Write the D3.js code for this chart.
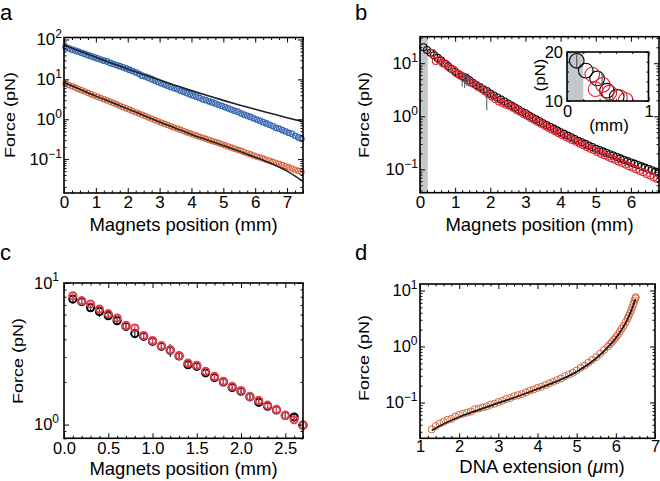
<!DOCTYPE html>
<html><head><meta charset="utf-8">
<script src="https://cdn.jsdelivr.net/npm/d3@7"></script>
<style>
body{margin:0;background:#fff}
svg{display:block}
text{font-family:"Liberation Sans",Arial,Helvetica,sans-serif;fill:#000}
</style>
</head><body>
<svg id="fig" width="660" height="481"></svg>
<script>
// ---------------- DATA ----------------
// Panel a: magnet position (mm) vs force (pN)
const aX = [0.05,0.15,0.25,0.35,0.45,0.55,0.65,0.75,0.85,0.95,
  1.05,1.15,1.25,1.35,1.45,1.55,1.65,1.75,1.85,1.95,
  2.05,2.15,2.25,2.35,2.45,2.55,2.65,2.75,2.85,2.95,
  3.05,3.15,3.25,3.35,3.45,3.55,3.65,3.75,3.85,3.95,
  4.05,4.15,4.25,4.35,4.45,4.55,4.65,4.75,4.85,4.95,
  5.05,5.15,5.25,5.35,5.45,5.55,5.65,5.75,5.85,5.95,
  6.05,6.15,6.25,6.35,6.45,6.55,6.65,6.75,6.85,6.95,
  7.05,7.15,7.25,7.35,7.45];
const aBlue = [64,60,56,52.7,49.4,46.3,43.4,40.7,38.2,35.8,
  33.6,31.5,29.5,28.2,25.9,24.3,22.8,21.4,20.0,18.8,
  17.5,16.2,15.0,13.8,12.4,11.8,10.9,10.1,9.35,8.65,
  8.03,7.47,6.96,6.48,6.03,5.75,5.23,4.87,4.53,4.22,
  3.94,3.69,3.45,3.15,3.02,2.82,2.64,2.47,2.31,2.16,
  2.02,1.88,1.75,1.63,1.55,1.41,1.31,1.22,1.14,1.06,
  0.985,0.913,0.846,0.784,0.727,0.674,0.61,0.579,0.536,0.497,
  0.458,0.43,0.385,0.352,0.323];
const aOrange = [7.83,7.25,6.72,6.23,5.77,5.35,4.96,4.60,4.26,3.95,
  3.66,3.40,3.16,2.94,2.73,2.54,2.36,2.19,2.03,1.89,
  1.75,1.62,1.50,1.39,1.29,1.20,1.11,1.03,0.954,0.884,
  0.822,0.767,0.716,0.668,0.624,0.582,0.543,0.507,0.473,0.442,
  0.414,0.389,0.365,0.343,0.322,0.303,0.285,0.268,0.252,0.236,
  0.222,0.208,0.195,0.183,0.171,0.161,0.151,0.141,0.132,0.124,
  0.1165,0.1095,0.103,0.0967,0.0909,0.0854,0.0802,0.0754,0.0709,0.0666,
  0.0624,0.0582,0.0543,0.0507,0.0473];
const aFitX = [0,0.5,1,1.5,2,2.5,3,3.5,4,4.5,5,5.5,6,6.5,7,7.5];
const aFitBlue = [72.4,50.7,35.9,25.5,18.3,13.2,9.59,7.05,5.22,3.92,2.97,2.28,1.77,1.39,1.09,0.87];
const aFitOrange = [8.32,5.62,3.80,2.63,1.82,1.245,0.851,0.596,0.417,0.302,0.219,0.158,0.112,0.0776,0.0501,0.0275];

// Panel b
const bBlackX = [0.1,0.2,0.3,0.4,0.5,0.6,0.7,0.8,0.9,1.0,
  1.1,1.2,1.3,1.4,1.5,1.6,1.7,1.8,1.9,2.0,
  2.1,2.2,2.3,2.4,2.5,2.6,2.7,2.8,2.9,3.0,
  3.1,3.2,3.3,3.4,3.5,3.6,3.7,3.8,3.9,4.0,
  4.1,4.2,4.3,4.4,4.5,4.6,4.7,4.8,4.9,5.0,
  5.1,5.2,5.3,5.4,5.5,5.6,5.7,5.8,5.9,6.0,
  6.1,6.2,6.3,6.4,6.5,6.6,6.7,6.8];
const bBlack = [19.95,17.8,15.8,14.1,12.6,11.2,9.9,8.8,7.8,6.92,
  6.28,5.70,5.35,4.80,4.27,3.89,3.55,3.24,3.0,2.69,
  2.47,2.26,2.07,1.90,1.74,1.59,1.46,1.34,1.22,1.14,
  1.03,0.951,0.875,0.805,0.741,0.685,0.634,0.586,0.542,0.501,
  0.466,0.433,0.402,0.373,0.347,0.324,0.302,0.282,0.263,0.245,
  0.231,0.218,0.205,0.193,0.182,0.171,0.161,0.152,0.143,0.135,
  0.128,0.121,0.114,0.108,0.102,0.0962,0.0906,0.0851];
const bRedX = [0.35,0.45,0.55,0.65,0.75,0.85,0.95,
  1.05,1.15,1.25,1.35,1.45,1.55,1.65,1.75,1.85,1.95,
  2.05,2.15,2.25,2.35,2.45,2.55,2.65,2.75,2.85,2.95,
  3.05,3.15,3.25,3.35,3.45,3.55,3.65,3.75,3.85,3.95,
  4.05,4.15,4.25,4.35,4.45,4.55,4.65,4.75,4.85,4.95,
  5.05,5.15,5.25,5.35,5.45,5.55,5.65,5.75,5.85,5.95,
  6.05,6.15,6.25,6.35,6.45,6.55,6.65,6.75];
const bRed = [15.5,11.0,11.5,10.0,9.5,8.1,7.5,
  6.4,5.9,5.3,4.8,4.3,4.0,3.6,3.3,2.95,2.6,
  2.35,2.1,1.9,1.78,1.65,1.58,1.45,1.32,1.22,1.1,
  1.02,0.93,0.85,0.78,0.72,0.66,0.61,0.56,0.52,0.48,
  0.44,0.41,0.38,0.355,0.33,0.305,0.285,0.265,0.245,0.228,
  0.212,0.197,0.185,0.172,0.161,0.151,0.141,0.132,0.123,0.115,
  0.107,0.100,0.094,0.088,0.082,0.077,0.071,0.066];
const bErrX = [1.2,1.27,1.33,1.4,1.9];
const bErrLo = [3.6,3.4,3.7,3.9,1.3];
const bErrHi = [6.2,6.5,6.0,5.6,3.5];
const bShade = [0,0.22];

// Inset of panel b
const iBlackX = [0.12,0.23,0.37,0.49,0.61];
const iBlack = [18.2,16.2,14.6,12.1,10.9];
const iRedX = [0.31,0.35,0.44,0.52,0.65,0.72];
const iRed = [15.4,12.4,13.3,11.7,10.8,10.2];
const iErrX = [0.12,0.43];
const iErrLo = [16.7,13.7];
const iErrHi = [19.5,15.7];
const iShade = [0,0.2];

// Panel c
const cX = [0.1,0.2,0.3,0.4,0.5,0.6,0.7,0.8,0.9,1.0,1.1,1.2,1.3,1.4,1.5,1.6,1.7,1.8,1.9,2.0,2.1,2.2,2.3,2.4,2.5,2.6,2.7];
const cBlack = [7.7,7.4,6.7,6.3,5.88,5.42,4.94,4.39,4.2,3.87,3.57,3.35,3.05,2.65,2.58,2.32,2.15,2.0,1.83,1.72,1.57,1.44,1.35,1.27,1.16,1.13,0.99];
const cRed = [8.13,7.5,7.1,6.55,6.07,5.66,5.02,4.81,4.25,3.92,3.61,3.38,3.07,2.72,2.62,2.38,2.19,2.02,1.86,1.74,1.58,1.48,1.37,1.28,1.16,1.08,0.99];
const cBlackErr = [0.45,0.5,0.35,0.55,0.3,0.3,0.2,0.25,0.25,0.25,0.15,0.35,0.12,0.15,0.1,0.15,0.1,0.1,0.1,0.07,0.06,0.1,0.05,0.05,0.05,0.07,0.05];
const cRedErr = [0.3,0.3,0.25,0.25,0.2,0.2,0.15,0.2,0.15,0.15,0.12,0.15,0.1,0.1,0.1,0.1,0.08,0.08,0.07,0.06,0.06,0.06,0.05,0.05,0.04,0.05,0.04];

// Panel d: DNA extension (um) vs force (pN)
const dX = [1.3,1.4,1.5,1.6,1.7,1.8,1.9,2.0,2.1,2.2,
  2.3,2.4,2.5,2.6,2.7,2.8,2.9,3.0,3.1,3.2,
  3.3,3.4,3.5,3.6,3.7,3.8,3.9,4.0,4.1,4.2,
  4.3,4.4,4.5,4.6,4.7,4.8,4.9,5.0,5.1,5.2,
  5.3,5.4,5.5,5.6,5.7,5.8,
  5.85,5.9,5.95,6.0,6.05,6.1,6.15,6.2,6.25,6.3,6.33,6.36,6.39,6.42,6.45,6.48,6.5,6.51];
const dF = [0.033,0.038,0.042,0.045,0.049,0.051,0.056,0.060,0.063,0.066,
  0.069,0.076,0.078,0.081,0.085,0.091,0.095,0.102,0.107,0.115,
  0.120,0.129,0.135,0.141,0.151,0.162,0.170,0.182,0.191,0.204,
  0.219,0.234,0.251,0.269,0.295,0.316,0.339,0.372,0.417,0.457,
  0.513,0.575,0.646,0.741,0.871,1.0,
  1.10,1.20,1.32,1.45,1.62,1.84,2.08,2.34,2.72,3.16,3.53,3.94,4.41,5.01,5.75,6.61,7.24,7.6];
const dFitX = [1.3,1.5,2,2.5,3,3.5,4,4.5,5,5.5,5.8,6.0,6.2,6.3,6.4,6.5];
const dFitF = [0.0316,0.038,0.055,0.074,0.098,0.129,0.174,0.24,0.355,0.617,0.977,1.41,2.29,3.09,4.47,7.08];

// Tick values
const aXMajor = [0,1,2,3,4,5,6,7];
const bXMajor = [0,1,2,3,4,5,6];
const cXMajor = [0,0.5,1.0,1.5,2.0,2.5];
const dXMajor = [1,2,3,4,5,6,7];
const iXMajor = [0,1];
const iYMajor = [10,20];

// ---------------- COLOURS ----------------
const BLUE = "#3568b3", ORANGE = "#d4653e", RED_B = "#e3202f", RED_C = "#e2404f", SHADE = "#c3c8cc";

// ---------------- HELPERS ----------------
const svg = d3.select("#fig");
const FONT_TICK = 17, FONT_SUP = 12, FONT_LAB = 18.5;

function range(a, b, s) { const out = []; for (let v = a; v <= b + 1e-9; v += s) out.push(+v.toFixed(6)); return out; }
function minorLin(dom, step, majors) {
  return range(Math.ceil(dom[0] / step - 1e-9) * step, dom[1], step).filter(v => !majors.some(m => Math.abs(m - v) < 1e-6));
}
function logMajor(dom) { const o = []; for (let e = -4; e <= 4; e++) { const v = Math.pow(10, e); if (v >= dom[0] * 0.999 && v <= dom[1] * 1.001) o.push(v); } return o; }
function logMinor(dom) { const o = []; for (let e = -4; e <= 4; e++) for (let k = 2; k <= 9; k++) { const v = k * Math.pow(10, e); if (v >= dom[0] && v <= dom[1]) o.push(v); } return o; }

function styleAxis(sel, fs) {
  sel.select(".domain").remove();
  sel.selectAll(".tick line").attr("stroke", "#000").attr("stroke-width", 1);
  sel.selectAll(".tick text").attr("font-size", fs).attr("fill", "#000")
    .attr("font-family", '"Liberation Sans",Arial,sans-serif');
}
function superscriptLabels(sel) {
  sel.selectAll(".tick text").each(function (d) {
    const t = d3.select(this);
    t.text(null);
    const e = Math.round(Math.log10(d));
    t.append("tspan").text("10");
    t.append("tspan").attr("dy", "-0.62em").attr("font-size", FONT_SUP).text(String(e).replace("-", "\u2212"));
  });
}

function box(g, x, y, o) {
  const [x0, x1] = x.range();
  const [yB, yT] = y.range();
  const none = () => "";
  const fs = o.fs || FONT_TICK;
  const majL = o.majLen || 5, minL = o.minLen || 2.5;
  g.append("g").attr("transform", `translate(0,${yB})`)
    .call(d3.axisBottom(x).tickValues(o.xMaj).tickSize(-majL).tickPadding(o.xPad).tickFormat(o.xFmt || none))
    .call(s => styleAxis(s, fs));
  g.append("g").attr("transform", `translate(0,${yB})`)
    .call(d3.axisBottom(x).tickValues(o.xMin).tickSize(-minL).tickFormat(none)).call(s => styleAxis(s, fs));
  g.append("g").attr("transform", `translate(0,${yT})`)
    .call(d3.axisTop(x).tickValues(o.xMaj).tickSize(-majL).tickFormat(none)).call(s => styleAxis(s, fs));
  g.append("g").attr("transform", `translate(0,${yT})`)
    .call(d3.axisTop(x).tickValues(o.xMin).tickSize(-minL).tickFormat(none)).call(s => styleAxis(s, fs));
  const la = g.append("g").attr("transform", `translate(${x0},0)`)
    .call(d3.axisLeft(y).tickValues(o.yMaj).tickSize(-majL).tickPadding(o.yPad).tickFormat(o.yFmt || (d => d)))
    .call(s => styleAxis(s, fs));
  if (o.yLog) la.call(superscriptLabels);
  g.append("g").attr("transform", `translate(${x0},0)`)
    .call(d3.axisLeft(y).tickValues(o.yMin).tickSize(-minL).tickFormat(none)).call(s => styleAxis(s, fs));
  g.append("g").attr("transform", `translate(${x1},0)`)
    .call(d3.axisRight(y).tickValues(o.yMaj).tickSize(-majL).tickFormat(none)).call(s => styleAxis(s, fs));
  g.append("g").attr("transform", `translate(${x1},0)`)
    .call(d3.axisRight(y).tickValues(o.yMin).tickSize(-minL).tickFormat(none)).call(s => styleAxis(s, fs));
  g.append("rect").attr("x", x0).attr("y", yT).attr("width", x1 - x0).attr("height", yB - yT)
    .attr("fill", "none").attr("stroke", "#000").attr("stroke-width", 1.6);
}
function clip(id, x, y) {
  const [x0, x1] = x.range(), [yB, yT] = y.range();
  svg.append("defs").append("clipPath").attr("id", id).append("rect")
    .attr("x", x0).attr("y", yT).attr("width", x1 - x0).attr("height", yB - yT);
  return `url(#${id})`;
}
// rotated axis title; glyphs slightly narrowed across the line as in the reference
function yLabel(txt, xb, yc, fs, sq) {
  svg.append("text").attr("transform", `translate(${xb},${yc}) rotate(-90) scale(1,${sq || 0.85})`).attr("text-anchor", "middle")
    .attr("font-size", fs || FONT_LAB).text(txt);
}
function xLabel(txt, xc, yb, fs) {
  return svg.append("text").attr("x", xc).attr("y", yb).attr("text-anchor", "middle").attr("font-size", fs || FONT_LAB).text(txt);
}
function panelLetter(t, x, y) { svg.append("text").attr("x", x).attr("y", y).attr("font-size", 22).text(t); }
function circles(g, xs, ys, x, y, r, color, sw) {
  g.append("g").selectAll("circle").data(xs.map((v, i) => [v, ys[i]])).join("circle")
    .attr("cx", d => x(d[0])).attr("cy", d => y(d[1])).attr("r", r)
    .attr("fill", "none").attr("stroke", color).attr("stroke-width", sw);
}

// ---------------- PANEL A ----------------
{
  const x = d3.scaleLinear([0, 7.5], [64, 303]);
  const yDom = [Math.pow(10, -1.85), Math.pow(10, 2.05)];
  const y = d3.scaleLog(yDom, [193, 37.5]);
  const g = svg.append("g");
  const cp = clip("clipA", x, y);
  circles(g, aX, aBlue, x, y, 2.7, BLUE, 1.3);
  circles(g, aX, aOrange, x, y, 2.7, ORANGE, 1.1);
  const line = d3.line().x((d, i) => x(aFitX[i])).y(d => y(d)).curve(d3.curveMonotoneX);
  g.append("path").attr("d", line(aFitBlue)).attr("fill", "none").attr("stroke", "#222").attr("stroke-width", 1.6).attr("clip-path", cp);
  g.append("path").attr("d", line(aFitOrange)).attr("fill", "none").attr("stroke", "#222").attr("stroke-width", 1.6).attr("clip-path", cp);
  box(g, x, y, { xMaj: aXMajor, xMin: minorLin([0, 7.5], 0.25, aXMajor), xPad: 3.2, xFmt: d3.format("d"),
    yMaj: logMajor(yDom), yMin: logMinor(yDom), yPad: 2, yLog: true });
  yLabel("Force (pN)", 14.5, 115, 18);
  xLabel("Magnets position (mm)", 183.5, 230.5);
  panelLetter("a", 0, 20);
}

// ---------------- PANEL B ----------------
{
  const x = d3.scaleLinear([0, 6.8], [420, 659]);
  const yDom = [Math.pow(10, -1.44), Math.pow(10, 1.5)];
  const y = d3.scaleLog(yDom, [192.7, 36.7]);
  const g = svg.append("g");
  g.append("rect").attr("x", x(bShade[0])).attr("y", 36.7).attr("width", x(bShade[1]) - x(bShade[0])).attr("height", 192.7 - 36.7).attr("fill", SHADE);
  circles(g, bBlackX, bBlack, x, y, 3.5, "#000", 1.1);
  circles(g, bRedX, bRed, x, y, 3.5, RED_B, 1.1);
  g.append("g").selectAll("line").data(bErrX.map((v, i) => [v, bErrLo[i], bErrHi[i]])).join("line")
    .attr("x1", d => x(d[0])).attr("x2", d => x(d[0])).attr("y1", d => y(d[1])).attr("y2", d => y(d[2]))
    .attr("stroke", "#555").attr("stroke-width", 1);
  box(g, x, y, { xMaj: bXMajor, xMin: minorLin([0, 6.8], 0.2, bXMajor), xPad: 3.2, xFmt: d3.format("d"),
    yMaj: logMajor(yDom), yMin: logMinor(yDom), yPad: 2, yLog: true });
  yLabel("Force (pN)", 368.5, 115, 18);
  xLabel("Magnets position (mm)", 539.5, 230.5);
  panelLetter("b", 355, 20);

  // inset
  const xi = d3.scaleLinear([0, 1], [567, 648.5]);
  const yi = d3.scaleLinear([10, 20], [101, 52]);
  const gi = svg.append("g");
  gi.append("rect").attr("x", 567).attr("y", 52).attr("width", 81.5).attr("height", 49).attr("fill", "#fff");
  const cpi = clip("clipI", xi, yi);
  const gc = gi.append("g").attr("clip-path", cpi);
  gc.append("rect").attr("x", xi(iShade[0])).attr("y", 52).attr("width", xi(iShade[1]) - xi(iShade[0])).attr("height", 49).attr("fill", SHADE);
  circles(gc, iBlackX, iBlack, xi, yi, 7.3, "#000", 1.1);
  circles(gc, iRedX, iRed, xi, yi, 7.3, RED_B, 1.1);
  gc.append("g").selectAll("line").data(iErrX.map((v, i) => [v, iErrLo[i], iErrHi[i]])).join("line")
    .attr("x1", d => xi(d[0])).attr("x2", d => xi(d[0])).attr("y1", d => yi(d[1])).attr("y2", d => yi(d[2]))
    .attr("stroke", "#444").attr("stroke-width", 1);
  box(gi, xi, yi, { xMaj: iXMajor, xMin: [0.2, 0.4, 0.6, 0.8], xPad: 4, xFmt: d3.format("d"),
    yMaj: iYMajor, yMin: [12, 14, 16, 18], yPad: 4, yFmt: d3.format("d"), majLen: 3.5, minLen: 2, fs: 16.5 });
  yLabel("(pN)", 545, 75, 17);
  xLabel("(mm)", 609, 130.5, 17);
}

// ---------------- PANEL C ----------------
{
  const x = d3.scaleLinear([0, 2.7], [64, 303]);
  const yDom = [0.8, 10];
  const y = d3.scaleLog(yDom, [438.3, 283]);
  const g = svg.append("g");
  const err = (xs, ys, es, col) => g.append("g").selectAll("line").data(xs.map((v, i) => [v, ys[i], es[i]])).join("line")
    .attr("x1", d => x(d[0])).attr("x2", d => x(d[0])).attr("y1", d => y(d[1] - d[2])).attr("y2", d => y(d[1] + d[2]))
    .attr("stroke", col).attr("stroke-width", 1.2);
  err(cX, cBlack, cBlackErr, "#222");
  circles(g, cX, cBlack, x, y, 3.6, "#000", 2);
  err(cX, cRed, cRedErr, RED_C);
  circles(g, cX, cRed, x, y, 3.6, RED_C, 2);
  box(g, x, y, { xMaj: cXMajor, xMin: minorLin([0, 2.7], 0.1, cXMajor), xPad: 4.4, xFmt: d3.format(".1f"),
    yMaj: logMajor(yDom), yMin: logMinor(yDom), yPad: 5, yLog: true, fs: 16.5 });
  yLabel("Force (pN)", 23, 361, 18);
  xLabel("Magnets position (mm)", 183.5, 474.5);
  panelLetter("c", 0, 260);
}

// ---------------- PANEL D ----------------
{
  const x = d3.scaleLinear([1, 7], [420, 655]);
  const yDom = [Math.pow(10, -1.64), Math.pow(10, 1.116)];
  const y = d3.scaleLog(yDom, [438.3, 284]);
  const g = svg.append("g");
  circles(g, dX, dF, x, y, 3.5, ORANGE, 1);
  const line = d3.line().x((d, i) => x(dFitX[i])).y(d => y(d)).curve(d3.curveMonotoneX);
  g.append("path").attr("d", line(dFitF)).attr("fill", "none").attr("stroke", "#1a1a1a").attr("stroke-width", 1.8);
  box(g, x, y, { xMaj: dXMajor, xMin: minorLin([1, 7], 0.2, dXMajor), xPad: 1.8, xFmt: d3.format("d"),
    yMaj: logMajor(yDom), yMin: logMinor(yDom), yPad: 2.5, yLog: true, fs: 16.5 });
  yLabel("Force (pN)", 368.5, 358, 18);
  const t = xLabel("", 542, 473);
  t.append("tspan").text("DNA extension (");
  t.append("tspan").attr("font-style", "italic").text("\u03bc");
  t.append("tspan").text("m)");
  panelLetter("d", 355, 260);
}
</script>
</body></html>
